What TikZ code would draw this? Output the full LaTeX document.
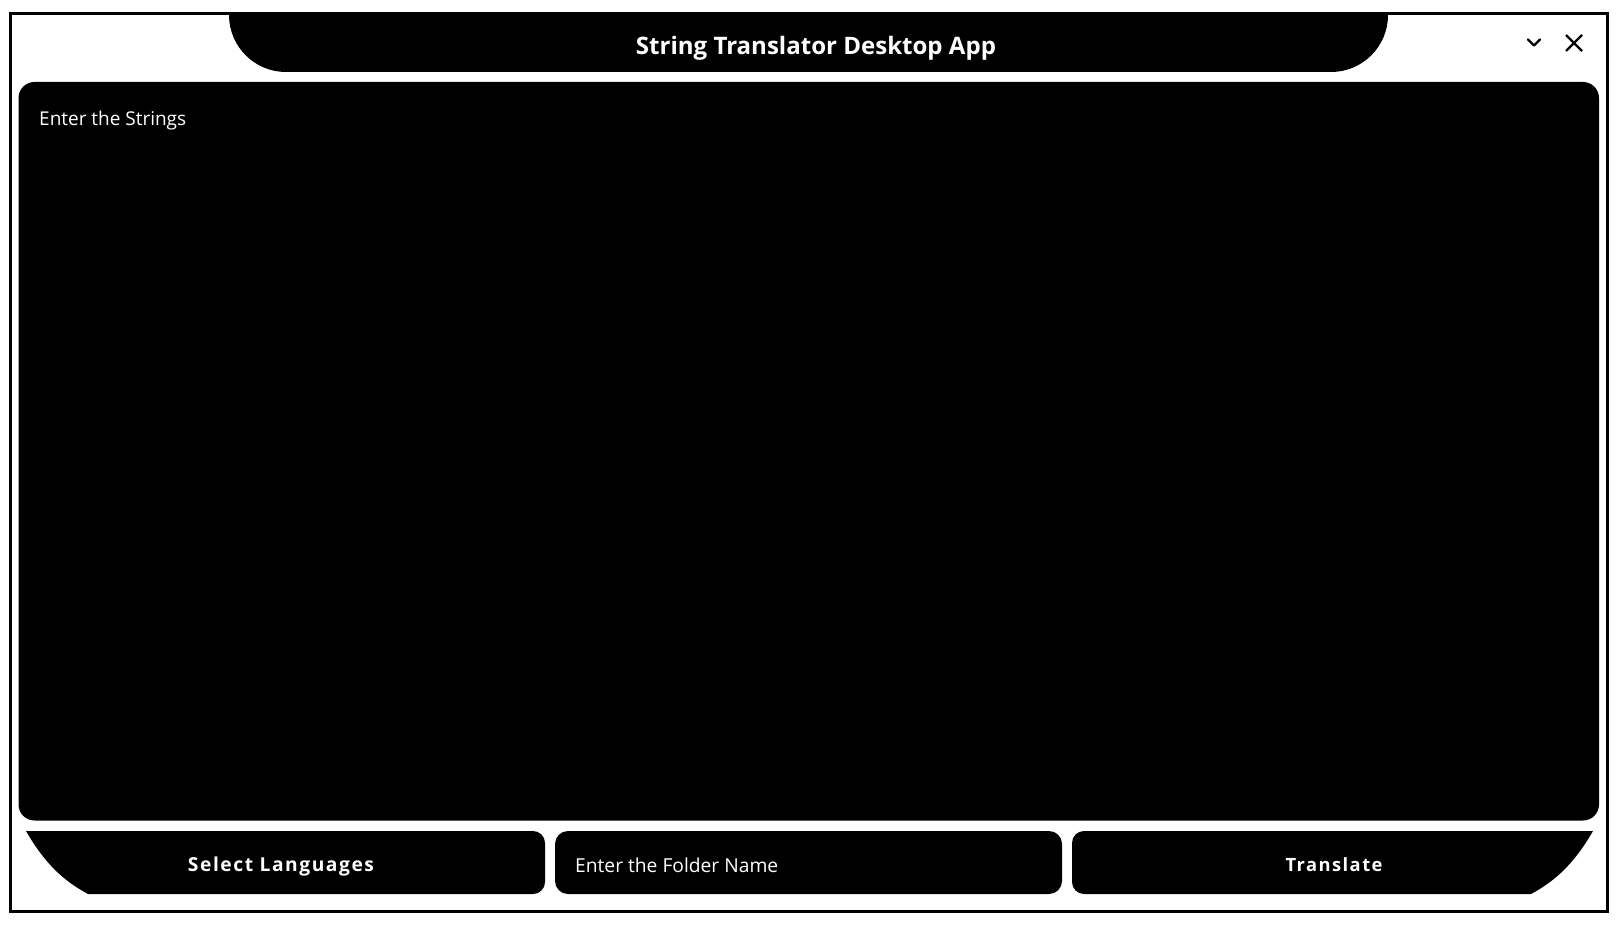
\documentclass[tikz,border=0pt]{standalone}
\usepackage{fontspec}
\setmainfont{Open Sans}
\newfontfamily\spacedbold[LetterSpace=8]{Open Sans}
\begin{document}
\begin{tikzpicture}[x=1pt,y=-1pt,
  lbl/.style={text=white,inner sep=0pt},
  frameline/.style={line width=3pt,draw=black}]
\useasboundingbox (0,0) rectangle (1622,925);
\fill[white] (0,0) rectangle (1622,925);
% outer frame
\draw[frameline] (10.5,14) rectangle (1607.5,911.5);
% title bar
\begin{scope}
\clip (0,12.5) rectangle (1622,925);
\fill[black, rounded corners=57pt] (229,-60) rectangle (1388,72);
\end{scope}
\node[lbl,anchor=base] (title) at (816,55) {\resizebox{360pt}{!}{\bfseries String Translator Desktop App}};
% window buttons
\draw[line width=2.2pt,line cap=round,line join=round] (1528,39.5) -- (1534,45.5) -- (1540,39.5);
\draw[line width=2.4pt] (1566,35) -- (1582,51) (1566,51) -- (1582,35);
% main text area
\fill[black, rounded corners=16pt] (18.5,82) rectangle (1599,820.5);
\node[lbl,anchor=base west] (strings) at (39,126) {\resizebox{147pt}{!}{Enter the Strings}};
% button 1
\begin{scope}
\clip (26,831) -- (26,820) -- (700,820) -- (700,900) -- (88,900) -- (88,894) .. controls (62,880) and (44,862) .. (26,831) -- cycle;
\fill[black, rounded corners=12pt] (0,831) rectangle (545,894);
\end{scope}
\node[lbl,anchor=base] (selectlang) at (281,871) {\resizebox{186pt}{!}{\spacedbold\bfseries Select Languages}};
% button 2
\fill[black, rounded corners=13pt] (555,831) rectangle (1062,894);
\node[lbl,anchor=base west] (folder) at (575,872) {\resizebox{203pt}{!}{Enter the Folder Name}};
% button 3
\begin{scope}
\clip (1593,831) -- (1593,820) -- (900,820) -- (900,900) -- (1531,900) -- (1531,894) .. controls (1557,880) and (1575,862) .. (1593,831) -- cycle;
\fill[black, rounded corners=12pt] (1072,831) rectangle (1622,894);
\end{scope}
\node[lbl,anchor=base] (translate) at (1334,871) {\resizebox{97pt}{!}{\spacedbold\bfseries Translate}};
\end{tikzpicture}
\end{document}
